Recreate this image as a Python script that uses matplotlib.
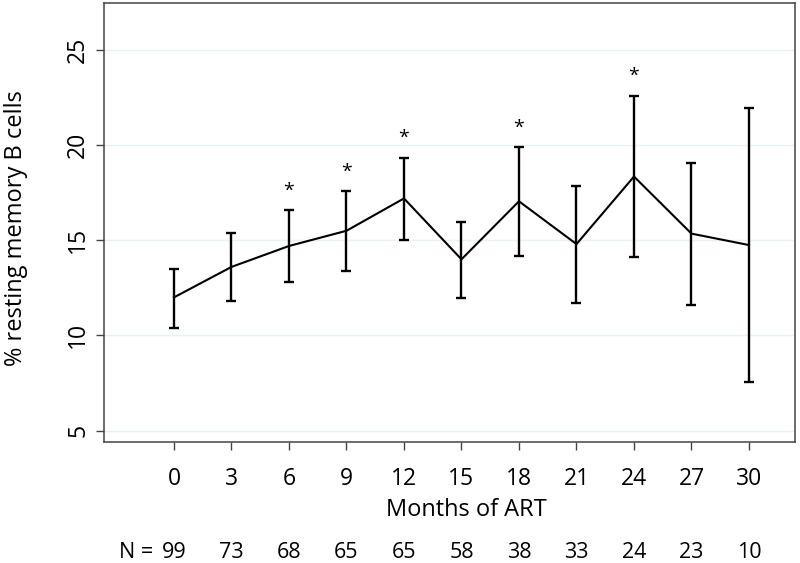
import matplotlib
matplotlib.use('Agg')
from matplotlib import pyplot as plt

# Data
months = [0, 3, 6, 9, 12, 15, 18, 21, 24, 27, 30]
mean_pct = [12.0, 13.6, 14.7, 15.5, 17.2, 14.0, 17.05, 14.8, 18.35, 15.35, 14.75]
upper_ci = [13.5, 15.4, 16.6, 17.6, 19.35, 15.95, 19.9, 17.85, 22.6, 19.05, 21.95]
lower_ci = [10.4, 11.8, 12.8, 13.4, 15.0, 11.95, 14.2, 11.7, 14.1, 11.6, 7.55]
significant = [False, False, True, True, True, False, True, False, True, False, False]
n_patients = [99, 73, 68, 65, 65, 58, 38, 33, 24, 23, 10]
y_ticks = [5, 10, 15, 20, 25]

plt.rcParams['font.family'] = ['Open Sans', 'DejaVu Sans']

fig = plt.figure(figsize=(8, 5.63), dpi=100)
ax = fig.add_axes((104 / 800, 1 - 442 / 563, 691 / 800, 439 / 563))

yerr = [[m - lo for m, lo in zip(mean_pct, lower_ci)],
        [hi - m for m, hi in zip(mean_pct, upper_ci)]]
ax.errorbar(months, mean_pct, yerr=yerr, color='black', linewidth=1.5,
            elinewidth=1.7, capsize=3.3, capthick=1.7, zorder=3)

for x, hi, sig in zip(months, upper_ci, significant):
    if sig:
        ax.annotate('*', (x, hi), xytext=(0, 14), textcoords='offset points',
                    ha='center', va='center', fontsize=14)

ax.set_xlim(-3.65, 32.4)
ax.set_ylim(4.4, 27.47)
ax.set_xticks(months)
ax.set_yticks(y_ticks)
ax.set_yticklabels([str(t) for t in y_ticks], rotation=90, va='center')
ax.grid(axis='y', color='#e6f4f4', linewidth=1.0, zorder=0)

for side in ['left', 'right', 'top', 'bottom']:
    ax.spines[side].set_color('#444444')
    ax.spines[side].set_linewidth(1.1)
ax.tick_params(axis='both', length=6, width=1.0, color='#444444', labelsize=16.5)
ax.tick_params(axis='x', pad=12)
ax.tick_params(axis='y', pad=4)

fig.text(16 / 800, 1 - 228 / 563, '% resting memory B cells', rotation=90,
         ha='center', va='center', fontsize=17)
fig.text(466 / 800, 1 - 510 / 563, 'Months of ART', ha='center', va='center', fontsize=17)

# Sample sizes under each time point
y_n = 1 - 553 / 563
fig.text(153 / 800, y_n, 'N =', ha='right', va='center', fontsize=15.5)
for x, n in zip(months, n_patients):
    px = ax.transData.transform((x, 0))[0] / fig.bbox.width
    fig.text(px, y_n, str(n), ha='center', va='center', fontsize=15.5)

fig.savefig('out.png', dpi=100)
